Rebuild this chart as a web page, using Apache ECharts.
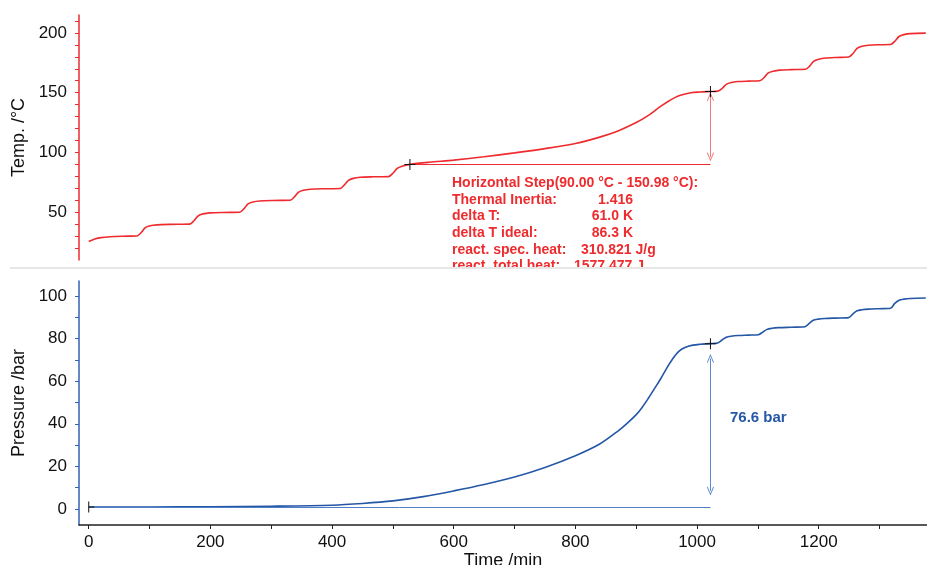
<!DOCTYPE html>
<html>
<head>
<meta charset="utf-8">
<script src="https://cdn.jsdelivr.net/npm/echarts@6/dist/echarts.min.js"></script>
<style>
  html, body { margin: 0; padding: 0; background: #fff; }
  #chart { width: 927px; height: 565px; }
</style>
</head>
<body>
<div id="chart"></div>
<script>
// temperature trace (min, °C)
const timeT = [0, 10, 20, 35, 55, 79, 86, 93, 101, 112, 134, 166, 173, 180, 188, 199, 221, 248,
  255, 262, 270, 281, 303, 331, 338, 345, 353, 364, 386, 413, 420, 427, 435, 446, 468, 493,
  500, 507, 515, 528, 560, 600, 650, 700, 750, 800, 840, 870, 900, 920, 940, 955, 970, 990, 1005, 1022,
  1034, 1041, 1048, 1056, 1067, 1085, 1103, 1110, 1117, 1125, 1136, 1155, 1178, 1185, 1192,
  1200, 1211, 1228, 1249, 1256, 1263, 1271, 1282, 1298, 1318, 1325, 1332, 1340, 1351, 1376];
const tempC = [25.5, 27.5, 28.7, 29.5, 29.9, 30.1, 32.8, 37, 38.6, 39.4, 39.8, 40, 42.8, 47, 48.6, 49.4, 49.8, 50,
  52.8, 57, 58.6, 59.4, 59.8, 60, 62.7, 66.8, 68.4, 69.2, 69.6, 69.8, 72.6, 76.7, 78.3, 79.2, 79.6, 79.8,
  82.6, 86.6, 88.5, 90, 91.8, 93.6, 96.4, 99.6, 103.2, 107.5, 112.8, 118, 125, 131, 138.5, 143.5, 147.5, 150, 150.6, 151,
  151.3, 153.5, 157, 158.5, 159.3, 159.7, 160, 162.5, 166.5, 168, 168.9, 169.3, 169.6, 172.2, 176.4,
  178, 179, 179.5, 179.8, 182.6, 187, 188.8, 189.7, 190.1, 190.3, 193, 197, 198.6, 199.4, 199.8];

// pressure trace (min, bar)
const timeP = [0, 100, 200, 300, 400, 450, 500, 550, 600, 650, 700, 750, 800, 840, 870, 885, 900, 910, 920, 930,
  940, 950, 960, 970, 980, 993, 1005, 1022, 1034, 1041, 1048, 1056, 1067, 1085, 1101, 1108, 1115, 1123,
  1134, 1155, 1177, 1184, 1191, 1199, 1210, 1228, 1249, 1256, 1263, 1271, 1282, 1298, 1318, 1325, 1332,
  1340, 1351, 1376];
const pressBar = [0.9, 0.95, 1.05, 1.3, 1.8, 2.6, 3.8, 5.8, 8.5, 11.5, 15, 19.5, 25, 30.5, 36.6, 40.2, 44.3, 47.8, 52, 56.5,
  61, 66, 70.5, 74, 75.8, 76.9, 77.3, 77.6, 77.9, 79.3, 80.6, 81.1, 81.4, 81.6, 81.8, 83, 84.3, 84.8,
  85.1, 85.3, 85.5, 87, 88.6, 89.1, 89.4, 89.6, 89.8, 91.5, 93, 93.5, 93.8, 94, 94.2, 96.5, 98,
  98.5, 98.8, 99];

// tick values
const timeLabels = [0, 200, 400, 600, 800, 1000, 1200];
const timeTicks = [0, 100, 200, 300, 400, 500, 600, 700, 800, 900, 1000, 1100, 1200, 1300];
const tempLabels = [50, 100, 150, 200];
const tempTicks = [20, 30, 40, 50, 60, 70, 80, 90, 100, 110, 120, 130, 140, 150, 160, 170, 180, 190, 200, 210];
const pressLabels = [0, 20, 40, 60, 80, 100];
const pressTicks = [0, 10, 20, 30, 40, 50, 60, 70, 80, 90, 100];

// step evaluation
const stepStart = [528, 90];
const stepEnd = [1022, 151];
const tempArrow = [146.5, 96.3];
const pressStart = [0, 0.95];
const pressEnd = [1022, 77.6];
const pressArrow = [70.6, 8.5];
const stepText = [
  ['Horizontal Step(90.00 °C - 150.98 °C):', ''],
  ['Thermal Inertia:', '1.416'],
  ['delta T:', '61.0 K'],
  ['delta T ideal:', '86.3 K'],
  ['react. spec. heat:', '310.821 J/g'],
  ['react. total heat:', '1577.477 J']
];

const RED = '#ee2b2e';
const BLUE = '#2457a6';
const FONT = '"Liberation Sans", Arial, sans-serif';

const plus = 'path://M5,0h1v11h-1z M0,5h11v1h-11z';
const startMark = 'path://M0,0h1v11h-1z M0,5h6v1h-6z';
const chevron = 'path://M5,0 L10,9 L9,10 L5,2.5 L1,10 L0,9 Z';

const chart = echarts.init(document.getElementById('chart'));

function yAxisBase(color, labels, ticks) {
  return {
    type: 'value',
    nameLocation: 'middle',
    nameGap: 28,
    nameTextStyle: { color: '#111', fontSize: 18, fontFamily: FONT },
    axisLine: { show: true, onZero: false, lineStyle: { color: color, width: 1.5 } },
    axisTick: { show: true, length: 4, customValues: ticks, lineStyle: { color: color } },
    axisLabel: { customValues: labels, margin: 12, color: '#111', fontSize: 17, fontFamily: FONT },
    splitLine: { show: false }
  };
}

const graphics = [];
stepText.forEach(function (row, i) {
  graphics.push({
    type: 'text', x: 452, y: 183 + i * 16.7, z: 10,
    style: { text: row[0], fill: RED, font: 'bold 14px ' + FONT, verticalAlign: 'middle' }
  });
});
// value column
[[633, 'right'], [633, 'right'], [633, 'right'], [581, 'left'], [574, 'left']].forEach(function (c, i) {
  graphics.push({
    type: 'text', x: c[0], y: 183 + (i + 1) * 16.7, z: 10,
    style: { text: stepText[i + 1][1], fill: RED, font: 'bold 14px ' + FONT, align: c[1], verticalAlign: 'middle' }
  });
});
graphics.push({ type: 'rect', shape: { x: 0, y: 268, width: 927, height: 11 }, style: { fill: '#fff' }, z: 20 });
graphics.push({ type: 'line', shape: { x1: 10, y1: 268, x2: 927, y2: 268 }, style: { stroke: '#e6e6e6', lineWidth: 2 }, z: 21 });
graphics.push({
  type: 'text', x: 730, y: 418, z: 10,
  style: { text: '76.6 bar', fill: BLUE, font: 'bold 15px ' + FONT, verticalAlign: 'middle' }
});

chart.setOption({
  animation: false,
  backgroundColor: '#fff',
  grid: [
    { left: 79, right: 0, top: 15, height: 245, outerBoundsMode: 'none' },
    { left: 79, right: 0, top: 281, height: 244, outerBoundsMode: 'none' }
  ],
  xAxis: [
    { gridIndex: 0, type: 'value', min: -16, max: 1378, show: false },
    {
      gridIndex: 1, type: 'value', min: -16, max: 1378,
      name: 'Time /min', nameLocation: 'middle', nameGap: 25,
      nameTextStyle: { color: '#111', fontSize: 18, fontFamily: FONT },
      axisLine: { show: true, onZero: false, lineStyle: { color: '#222', width: 1.5 } },
      axisTick: { show: true, length: 4, customValues: timeTicks, lineStyle: { color: '#222' } },
      axisLabel: { customValues: timeLabels, margin: 9, color: '#111', fontSize: 17, fontFamily: FONT,
        formatter: v => String(v) },
      splitLine: { show: false }
    }
  ],
  yAxis: [
    Object.assign(yAxisBase(RED, tempLabels, tempTicks), { gridIndex: 0, min: 10, max: 215, name: 'Temp. /°C' }),
    Object.assign(yAxisBase('#2f62b5', pressLabels, pressTicks), { gridIndex: 1, min: -7.5, max: 107, name: 'Pressure /bar' })
  ],
  graphic: graphics,
  series: [
    {
      name: 'Temp.', type: 'line', xAxisIndex: 0, yAxisIndex: 0,
      data: timeT.map((t, i) => [t, tempC[i]]),
      showSymbol: false, smooth: 0.3,
      lineStyle: { color: RED, width: 1.6 },
      markLine: {
        silent: true, symbol: ['none', 'none'], label: { show: false },
        data: [
          [{ coord: stepStart, lineStyle: { color: RED, width: 1, type: 'solid' } }, { coord: [stepEnd[0], stepStart[1]] }],
          [
            { coord: [stepEnd[0], tempArrow[0]], symbol: chevron, symbolSize: [7, 9], lineStyle: { color: '#f07a7a', width: 1, type: 'solid' } },
            { coord: [stepEnd[0], tempArrow[1]], symbol: chevron, symbolSize: [7, 9] }
          ]
        ]
      },
      markPoint: {
        silent: true, symbol: plus, symbolSize: 11, label: { show: false },
        itemStyle: { color: '#111' },
        data: [{ coord: stepStart }, { coord: stepEnd }]
      }
    },
    {
      name: 'Pressure', type: 'line', xAxisIndex: 1, yAxisIndex: 1,
      data: timeP.map((t, i) => [t, pressBar[i]]),
      showSymbol: false, smooth: 0.3,
      lineStyle: { color: BLUE, width: 1.6 },
      markLine: {
        silent: true, symbol: ['none', 'none'], label: { show: false },
        data: [
          [{ coord: pressStart, lineStyle: { color: '#4d7fc8', width: 1, type: 'solid' } }, { coord: [pressEnd[0], pressStart[1]] }],
          [
            { coord: [pressEnd[0], pressArrow[0]], symbol: chevron, symbolSize: [7, 9], lineStyle: { color: '#5b89cc', width: 1, type: 'solid' } },
            { coord: [pressEnd[0], pressArrow[1]], symbol: chevron, symbolSize: [7, 9] }
          ]
        ]
      },
      markPoint: {
        silent: true, label: { show: false }, itemStyle: { color: '#111' },
        data: [
          { coord: pressStart, symbol: startMark, symbolSize: [6, 11], symbolOffset: [2.5, 0] },
          { coord: pressEnd, symbol: plus, symbolSize: 11 }
        ]
      }
    }
  ]
});
</script>
</body>
</html>
